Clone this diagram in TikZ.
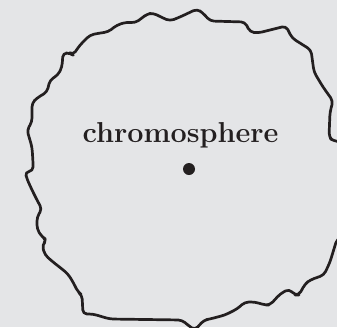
\documentclass[tikz,border=0pt]{standalone}
\usetikzlibrary{positioning}
\definecolor{paper}{HTML}{E4E5E7}
\definecolor{ink}{HTML}{231F20}

\begin{document}
\begin{tikzpicture}[x=0.5pt,y=-0.5pt,rim/.style={draw=ink, line width=1.35pt, rounded corners=2pt, line join=round},caption/.style={font=\fontsize{14.4}{16}\selectfont\bfseries, text=ink, inner sep=0pt},spot/.style={circle, fill=ink, minimum size=6pt, inner sep=0pt}]
\fill[paper] (0,0) rectangle (337,327);
\useasboundingbox (0,0) rectangle (337,327);
\clip (0,0) rectangle (337,327);
% ragged rim of the chromosphere
\draw[rim] (197,9) -- (203,13) -- (210,21) -- (245,22) -- (250,32) -- (258,33) -- (286,26) -- (292,38) -- (311,50) -- (314,72) -- (323,87) -- (333,101) -- (330,112) -- (329,137) -- (333,141) -- (345,142) -- (350,190) -- (345,236) -- (337,239) -- (330,262) -- (324,275) -- (310,280) -- (305,284) -- (299,295) -- (295,295) -- (289,289) -- (280,294) -- (270,305) -- (265,305) -- (255,302) -- (245,302) -- (237,309) -- (225,315) -- (210,319) -- (204,320) -- (195,330) -- (189,326) -- (182,320) -- (110,319) -- (103,317) -- (93,314) -- (83,314) -- (82,295) -- (78,292) -- (73,282) -- (68,274) -- (62,269) -- (53,262) -- (45,255) -- (42,245) -- (47,240) -- (42,237) -- (37,229) -- (37,217) -- (42,209) -- (38,202) -- (32,190) -- (27,179) -- (25,172) -- (33,171) -- (33,162) -- (32,147) -- (27,130) -- (32,122) -- (32,103) -- (37,98) -- (47,92) -- (50,80) -- (58,75) -- (62,67) -- (63,53) -- (70,53) -- (73,55) -- (80,45) -- (90,35) -- (100,33) -- (108,32) -- (117,25) -- (127,22) -- (135,23) -- (142,18) -- (147,14) -- (153,13) -- (163,18) -- (170,21) -- (180,17) -- cycle;
\node[caption] (name) at (180.5,135) {chromosphere};
\node[spot] (core) at (189,169) {};
\end{tikzpicture}
\end{document}
